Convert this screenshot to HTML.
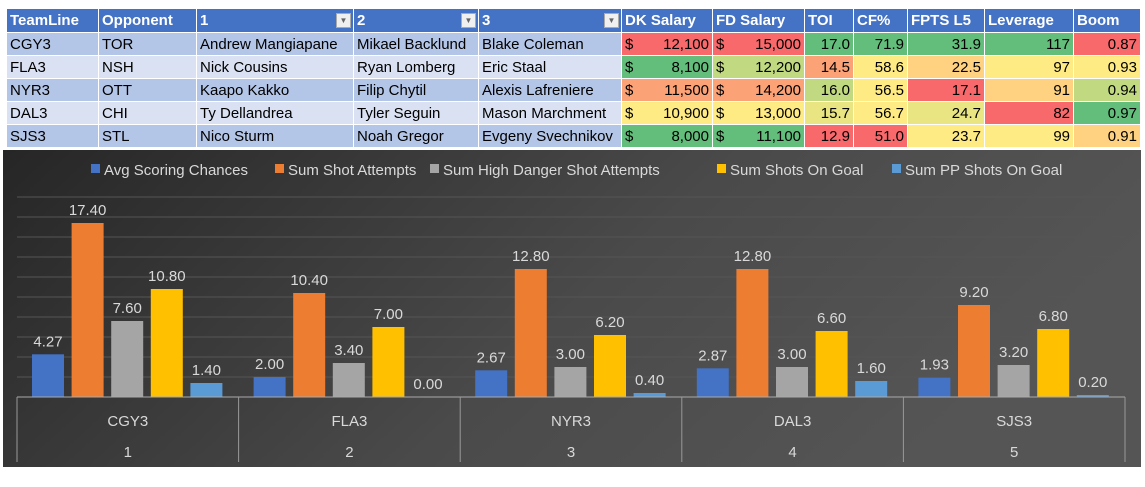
<!DOCTYPE html>
<html><head><meta charset="utf-8"><style>
body{margin:0;width:1145px;height:487px;background:#fff;overflow:hidden;font-family:"Liberation Sans",sans-serif;}
table{position:absolute;left:6px;top:8px;border-collapse:collapse;table-layout:fixed;font-size:15px;}
td,th{height:22px;padding:0 3px;border:1px solid #fff;white-space:nowrap;overflow:hidden;}
th{background:#4472c4;color:#fff;text-align:left;font-weight:bold;height:23px;position:relative}
tr.o td{background:#b4c6e7}tr.e td{background:#d9e1f2}
td.n{text-align:right}
.dd{position:absolute;right:2px;top:4px;width:13px;height:13px;background:#f0f0f0;border:1px solid #aaa;font-size:8px;color:#666;text-align:center;line-height:13px}
.r{background:#f8696b!important}.g{background:#63be7b!important}.y{background:#ffeb84!important}.o1{background:#fba276!important}.lg{background:#c1da81!important}.yg{background:#e9e583!important}.oy{background:#fed280!important}
.d{float:left}
</style></head><body>
<table>
<colgroup><col style="width:92px"><col style="width:98px"><col style="width:157px"><col style="width:125px"><col style="width:143px"><col style="width:91px"><col style="width:92px"><col style="width:49px"><col style="width:54px"><col style="width:77px"><col style="width:89px"><col style="width:67px"></colgroup>
<tr><th>TeamLine</th><th>Opponent</th><th>1<span class="dd">▼</span></th><th>2<span class="dd">▼</span></th><th>3<span class="dd">▼</span></th><th>DK Salary</th><th>FD Salary</th><th>TOI</th><th>CF%</th><th>FPTS L5</th><th>Leverage</th><th>Boom</th></tr>
<tr class="o"><td>CGY3</td><td>TOR</td><td>Andrew Mangiapane</td><td>Mikael Backlund</td><td>Blake Coleman</td><td class="n r"><span class="d">$</span>12,100</td><td class="n r"><span class="d">$</span>15,000</td><td class="n g">17.0</td><td class="n g">71.9</td><td class="n g">31.9</td><td class="n g">117</td><td class="n r">0.87</td></tr>
<tr class="e"><td>FLA3</td><td>NSH</td><td>Nick Cousins</td><td>Ryan Lomberg</td><td>Eric Staal</td><td class="n g"><span class="d">$</span>8,100</td><td class="n lg"><span class="d">$</span>12,200</td><td class="n o1">14.5</td><td class="n y">58.6</td><td class="n oy">22.5</td><td class="n y">97</td><td class="n y">0.93</td></tr>
<tr class="o"><td>NYR3</td><td>OTT</td><td>Kaapo Kakko</td><td>Filip Chytil</td><td>Alexis Lafreniere</td><td class="n o1"><span class="d">$</span>11,500</td><td class="n o1"><span class="d">$</span>14,200</td><td class="n lg">16.0</td><td class="n y">56.5</td><td class="n r">17.1</td><td class="n oy">91</td><td class="n lg">0.94</td></tr>
<tr class="e"><td>DAL3</td><td>CHI</td><td>Ty Dellandrea</td><td>Tyler Seguin</td><td>Mason Marchment</td><td class="n y"><span class="d">$</span>10,900</td><td class="n y"><span class="d">$</span>13,000</td><td class="n yg">15.7</td><td class="n y">56.7</td><td class="n yg">24.7</td><td class="n r">82</td><td class="n g">0.97</td></tr>
<tr class="o"><td>SJS3</td><td>STL</td><td>Nico Sturm</td><td>Noah Gregor</td><td>Evgeny Svechnikov</td><td class="n g"><span class="d">$</span>8,000</td><td class="n g"><span class="d">$</span>11,100</td><td class="n r">12.9</td><td class="n r">51.0</td><td class="n y">23.7</td><td class="n y">99</td><td class="n oy">0.91</td></tr>
</table>
<svg id="chart" width="1145" height="487" style="position:absolute;left:0;top:0">
<defs>
<linearGradient id="bg" x1="0" y1="0" x2="1" y2="0.3"><stop offset="0" stop-color="#262626"/><stop offset="0.6" stop-color="#4a4a4a"/><stop offset="1" stop-color="#555"/></linearGradient>
</defs>
<rect x="3" y="150" width="1138" height="317" fill="url(#bg)"/>
</svg>
<script>
const categories=["CGY3","FLA3","NYR3","DAL3","SJS3"];
const subLabels=["1","2","3","4","5"];
const seriesNames=["Avg Scoring Chances","Sum Shot Attempts","Sum High Danger Shot Attempts","Sum Shots On Goal","Sum PP Shots On Goal"];
const avgScoring=[4.27,2.00,2.67,2.87,1.93];
const shotAttempts=[17.40,10.40,12.80,12.80,9.20];
const highDanger=[7.60,3.40,3.00,3.00,3.20];
const shotsOnGoal=[10.80,7.00,6.20,6.60,6.80];
const ppShots=[1.40,0.00,0.40,1.60,0.20];
const yTicks=[0,2,4,6,8,10,12,14,16,18,20];
const series=[avgScoring,shotAttempts,highDanger,shotsOnGoal,ppShots];
const colors=["#4472c4","#ed7d31","#a5a5a5","#ffc000","#5b9bd5"];
const svg=document.getElementById('chart');
const NS="http://www.w3.org/2000/svg";
const x0=17,x1=1125,base=397,yTop=197,ymax=20;
const y=v=>base-(v/ymax)*(base-yTop);
const gw=(x1-x0)/categories.length;
function mk(t,a,p){const e=document.createElementNS(NS,t);for(const k in a)e.setAttribute(k,a[k]);(p||svg).appendChild(e);return e;}
yTicks.forEach(t=>{if(t===0)return;const l=mk('line',{x1:x0,x2:x1,y1:y(t),y2:y(t),stroke:'#555','stroke-width':1});

});
categories.forEach((c,i)=>{const gx=x0+i*gw;
series.forEach((s,j)=>{const bx=gx+15+j*39.6;const v=s[i];
const r=mk('rect',{x:bx,y:y(v),width:32,height:base-y(v),fill:colors[j]});


const t=mk('text',{x:bx+16,y:y(v)-8,'text-anchor':'middle',fill:'#d9d9d9','font-size':15});t.textContent=v.toFixed(2);

});
const cl=mk('text',{x:gx+gw/2,y:426,'text-anchor':'middle',fill:'#d9d9d9','font-size':15});cl.textContent=c;


const sl=mk('text',{x:gx+gw/2,y:457,'text-anchor':'middle',fill:'#d9d9d9','font-size':15});sl.textContent=subLabels[i];

});
mk('line',{x1:x0,x2:x1,y1:base,y2:base,stroke:'#aaa'});
for(let i=0;i<=categories.length;i++){const xx=x0+i*gw;mk('line',{x1:xx,x2:xx,y1:base,y2:462,stroke:'#999'});}
const legX=[91,275,430,717,892];
seriesNames.forEach((n,j)=>{const g=mk('g',{});


mk('rect',{x:legX[j],y:164,width:9,height:9,fill:colors[j]},g);
const t=mk('text',{x:legX[j]+13,y:175,fill:'#d9d9d9','font-size':15},g);t.textContent=n;});
</script>
</body></html>
